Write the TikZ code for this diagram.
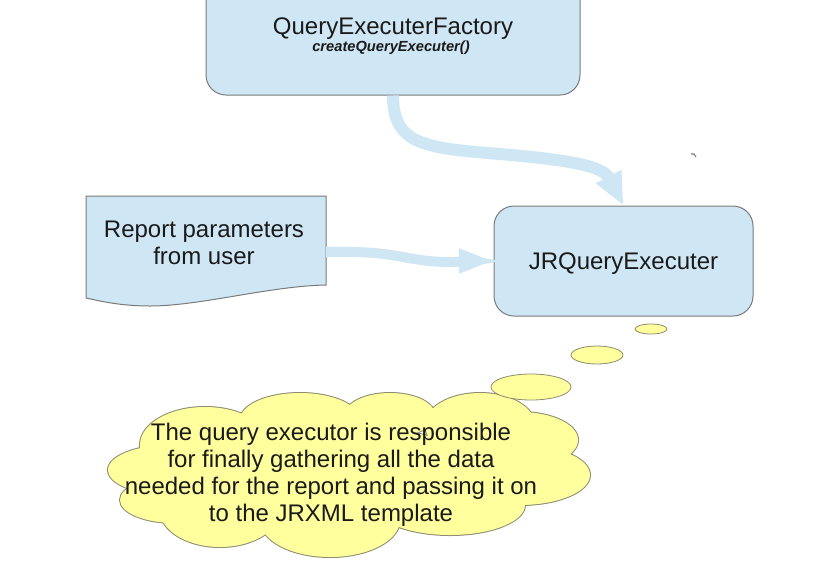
\documentclass[tikz,border=0pt]{standalone}
\usepackage{fontspec}
\setmainfont{Liberation Sans}
\usetikzlibrary{arrows.meta}
\definecolor{boxblue}{HTML}{CFE6F4}
\definecolor{arrowblue}{HTML}{CFE6F4}
\definecolor{edgegray}{HTML}{7A7A7A}
\definecolor{cloudyellow}{HTML}{FFFF9E}
\definecolor{cloudedge}{HTML}{8C8C6E}
\definecolor{txt}{HTML}{1A1A1A}
\begin{document}
\begin{tikzpicture}[x=0.75pt,y=-0.75pt,
  bigtext/.style={font=\fontsize{18}{20.25}\selectfont, text=txt, align=center},
  boxstyle/.style={draw=edgegray, line width=0.75pt, fill=boxblue, rounded corners=15pt},
  flowarrow/.style={draw=arrowblue, line cap=butt},
  bubble/.style={draw=cloudedge, line width=0.6pt, fill=cloudyellow}]
\useasboundingbox (0,0) rectangle (816,576);
\clip (0,0) rectangle (816,576);

% factory box
\node[boxstyle, minimum width=280.5pt, minimum height=93.75pt, inner sep=0pt] (fac) at (393,32.5) {};
\node[bigtext] (factitle) at (393,28.5) {QueryExecuterFactory};
\node[font=\fontsize{11}{13}\selectfont\bfseries\itshape, text=txt] (facsub) at (391,48) {createQueryExecuter()};

% JRQueryExecuter
\node[boxstyle, minimum width=194.25pt, minimum height=82.5pt, inner sep=0pt] (jr) at (623.5,261) {};
\node[bigtext] (jrtext) at (623.5,264) {JRQueryExecuter};

% document shape
\draw[draw=edgegray, line width=0.75pt, fill=boxblue]
  (86,196) -- (326,196) -- (326,285)
  .. controls (270,286) and (200,306) .. (150,306)
  .. controls (120,306) and (100,301) .. (86,298) -- cycle;
\node[bigtext] (doc) at (204,242.5) {Report parameters\\from user};
\coordinate (docE) at (326,252);

% arrows
\draw[flowarrow, line width=9pt, -{Triangle[length=24.5pt,width=20pt]}]
  (fac.south) .. controls (393,145) and (425,148) .. (500,154)
  .. controls (570,160) and (603,166) .. (jr.north);
\draw[flowarrow, line width=7.5pt, -{Triangle[length=26pt,width=17pt]}]
  (docE) .. controls (400,250) and (405,262) .. (450,262)
  .. controls (470,262) and (480,261) .. (jr.west);

% small mark
\draw[edgegray, line width=0.8pt] (691,154) -- (694,154) -- (696,157);

% cloud
\begin{scope}
\foreach \cx/\cy/\rx/\ry in {205/445/65/38, 300/420/60/27, 390/415/45/22, 480/425/55/32,
   520/440/58/28, 520/475/70/30, 450/505/75/30, 330/520/70/37, 220/510/60/37,
   175/500/55/23, 170/470/62/25, 330/470/150/45}
  \draw[cloudedge, line width=1.5pt] (\cx,\cy) ellipse [x radius=\rx, y radius=\ry];
\foreach \cx/\cy/\rx/\ry in {205/445/65/38, 300/420/60/27, 390/415/45/22, 480/425/55/32,
   520/440/58/28, 520/475/70/30, 450/505/75/30, 330/520/70/37, 220/510/60/37,
   175/500/55/23, 170/470/62/25, 330/470/150/45}
  \fill[cloudyellow] (\cx,\cy) ellipse [x radius=\rx, y radius=\ry];
\end{scope}
\node[bigtext] (cloudtext) at (331,474.5) {The query executor is responsible\\for finally gathering all the data\\needed for the report and passing it on\\to the JRXML template};

% thought bubbles
\draw[bubble] (651,329) ellipse [x radius=16, y radius=5];
\draw[bubble] (597,355) ellipse [x radius=26, y radius=9];
\draw[bubble] (531,387) ellipse [x radius=40, y radius=13];
\end{tikzpicture}
\end{document}
